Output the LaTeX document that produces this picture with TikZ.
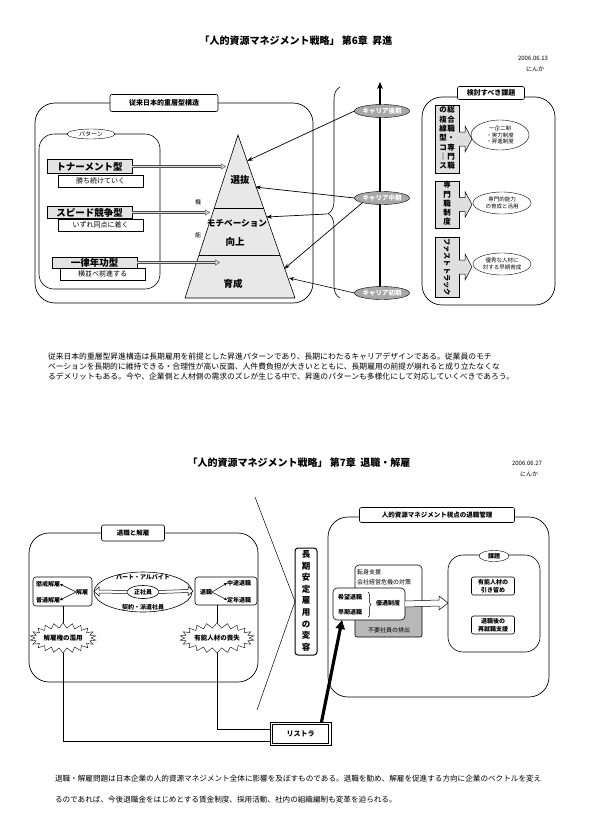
\documentclass[tikz,border=0pt]{standalone}
\usepackage{fontspec}
\setmainfont{Noto Sans CJK JP}
\usetikzlibrary{shapes.geometric,shapes.symbols,arrows.meta,decorations.pathreplacing,calc}
\newcommand\fs[2]{\fontsize{#1}{#2}\selectfont}
\begin{document}
\begin{tikzpicture}[x=1pt,y=-1pt,
  every node/.style={inner sep=0pt, outer sep=0pt},
  lw/.style={line width=0.6pt},
  bigbox/.style={draw, line width=0.7pt, rounded corners=20pt},
  lbl/.style={draw, fill=white, rounded corners=2pt, line width=0.6pt, font=\bfseries\fs{7}{8}},
  pbox/.style={draw, fill=gray!22, minimum width=85pt, font=\bfseries\fs{9.5}{10}},
  sbox/.style={draw, fill=white, minimum width=85pt, minimum height=12pt, font=\fs{7}{8}},
  pyr/.style={font=\bfseries\fs{9.5}{10}},
  car/.style={draw, ellipse, fill=gray!68, minimum width=55pt, minimum height=13pt, text=white, font=\bfseries\fs{6.5}{7}},
  link/.style={line width=0.7pt, -{Stealth[length=6pt,width=4pt]}},
  grarrow/.style={draw=gray!60!black, double=gray!30, double distance=1.6pt, line width=0.4pt, -{Triangle[length=5pt, width=6pt, fill=gray!30]}},
  vb/.style={draw, fill=gray!25, minimum width=24pt, font=\bfseries\fs{7.5}{9.3}},
  chev/.style={draw, fill=gray!25, line width=0.5pt},
  issue/.style={draw, ellipse, fill=white, minimum width=58pt, font=\fs{5.5}{6.8}, align=center},
  small/.style={font=\bfseries\fs{6}{7}},
  tiny/.style={line width=0.5pt, -{Stealth[length=3pt,width=3pt]}},
  burst/.style={draw, starburst, starburst points=22, starburst point height=5pt, random starburst=0, fill=white, minimum width=66pt, minimum height=30pt, font=\bfseries\fs{6.5}{7}},
  ptext/.style={anchor=west, font=\fs{7.8}{9}},
  hollow/.style={draw, fill=white, line width=0.5pt}
]
\useasboundingbox (0,0) rectangle (593,835);
\fill[white] (0,0) rectangle (593,835);

% ---------------- Chapter 6 ----------------
\node[font=\bfseries\fs{10}{12}] (title1) at (296,41) {「人的資源マネジメント戦略」\ 第6章\ \ 昇進};
\node[font=\fs{6}{7}] (date1) at (533,58) {2006.06.13};
\node[font=\fs{6}{7}] (name1) at (535,69) {にんか};

% outer box
\draw[bigbox] (35,103) rectangle (313,303);
\node[lbl, minimum width=108pt, minimum height=17pt] (lb1) at (164,103) {従来日本的重層型構造};

% pattern box
\draw[lw, rounded corners=15pt] (39,134) rectangle (160,289);
\node[draw, ellipse, fill=white, minimum width=48pt, minimum height=10pt, font=\fs{6}{7}] (pat) at (91,134) {パターン};

\node[pbox, minimum height=14pt] (p1) at (89.5,166.5) {トナーメント型};
\node[sbox] (s1) at (100.5,181) {勝ち続けていく};
\node[pbox, minimum height=12pt] (p2) at (89.5,212.5) {スピード競争型};
\node[sbox] (s2) at (100.5,225) {いずれ同点に着く};
\node[pbox, minimum height=11pt] (p3) at (94.5,262.5) {一律年功型};
\node[sbox] (s3) at (102.5,274) {横並べ前進する};

% pyramid
\coordinate (pa) at (238,135);
\coordinate (pl) at (185,298);
\coordinate (pr) at (295,298);
\filldraw[fill=gray!18, lw] (pa) -- (pr) -- (pl) -- cycle;
\draw[lw] (214.3,208) -- (263.5,208);
\draw[lw] (199,255) -- (280,255);
\node[pyr] (sel) at (240,180) {選抜};
\node[font=\bfseries\fs{8.6}{9}] (mot) at (237,223) {モチベーション};
\node[pyr] (up) at (235,242) {向上};
\node[pyr] (grow) at (233,284) {育成};
\node[font=\fs{6}{7}] (ki) at (198,202) {機};
\node[font=\fs{6}{7}] (no) at (198,235) {能};

\coordinate (pt1) at (226,166.5);
\coordinate (pt2) at (210,212.5);
\coordinate (pt3) at (220,262.5);
\draw[grarrow] (p1.east) -- (pt1);
\draw[grarrow] (p2.east) -- (pt2);
\draw[grarrow] (p3.east) -- (pt3);

% career axis
\coordinate (axb) at (380,298);
\coordinate (axt) at (380,82);
\draw[line width=1.4pt, -{Stealth[length=7pt,width=6pt]}] (axb) -- (axt);
\node[car] (c3) at (382,111) {キャリア後期};
\node[car] (c2) at (382,198) {キャリア中期};
\node[car] (c1) at (382,293) {キャリア初期};

\draw[lw, decorate, decoration={brace, amplitude=12pt, aspect=0.4}] (340,298) -- (340,87);
\coordinate (bt) at (327,214);

\coordinate (ta) at (247,161);
\coordinate (tb) at (255,187);
\coordinate (tc) at (266,217);
\coordinate (td) at (284,269);
\coordinate (te) at (289,278);
\draw[link] (c3.west) -- (ta);
\draw[link] (c2.west) -- (tb);
\draw[link] (bt) -- (tc);
\draw[link] (c2.south west) -- (td);
\draw[line width=0.6pt, -{Stealth[length=5pt,width=4pt]}] (c1.west) -- (te);

% issues panel
\draw[bigbox] (422,97) rectangle (555,305);
\node[lbl, minimum width=67pt, minimum height=13pt] (lb2) at (491,93) {検討すべき課題};

\node[vb, minimum height=68pt] (k1) at (447,139) {\begin{tabular}{@{}c@{\hspace{0.5pt}}c@{}}の&総\\複&合\\線&職\\型&・\\コ&専\\｜&門\\ス&職\end{tabular}};
\node[vb, minimum height=45pt] (k2) at (447,204.5) {\begin{tabular}{@{}c@{}}専\\門\\職\\制\\度\end{tabular}};
\node[vb, minimum height=60pt] (k3) at (447,267) {};
\node[rotate=-90, font=\bfseries\fs{7.2}{8}] (k3t) at (k3.center) {ファストトラック};

\foreach \k in {k1,k2,k3}{
  \draw[chev] ($(\k.east)+(0,-7)$) -- ++(6,0) -- ++(0,-6) -- ++(7,13) -- ++(-7,13) -- ++(0,-6) -- ++(-6,0);
}

\node[issue, minimum height=30pt] (e1) at (500,135) {一企二制\\・実力制度\\・昇進制度};
\node[issue, minimum height=22pt] (e2) at (502,203) {専門的能力\\の育成と活用};
\node[issue, minimum height=22pt] (e3) at (502,264) {優秀な人材に\\対する早期育成};

% paragraph 1
\node[ptext] (para1a) at (48,357) {従来日本的重層型昇進構造は長期雇用を前提とした昇進パターンであり、長期にわたるキャリアデザインである。従業員のモチ};
\node[ptext] (para1b) at (48,367) {ベーションを長期的に維持できる・合理性が高い反面、人件費負担が大きいとともに、長期雇用の前提が崩れると成り立たなくな};
\node[ptext] (para1c) at (48,377) {るデメリットもある。今や、企業側と人材側の需求のズレが生じる中で、昇進のパターンも多様化にして対応していくべきであろう。};

% ---------------- Chapter 7 ----------------
\node[font=\bfseries\fs{10}{12}] (title2) at (299,463) {「人的資源マネジメント戦略」\ 第7章\ \ 退職・解雇};
\node[font=\fs{6}{7}] (date2) at (527,463) {2006.06.27};
\node[font=\fs{6}{7}] (name2) at (529,474) {にんか};

% left box
\draw[bigbox] (29,533) rectangle (258,682);
\node[lbl, minimum width=63pt, minimum height=16pt, font=\bfseries\fs{6.5}{7}] (lb3) at (133,533) {退職と解雇};

\node[draw, rounded corners=3pt, lw, minimum width=59pt, minimum height=29pt] (kA) at (62.5,591.5) {};
\node[small] (ka1) at (48,584) {懲戒解雇};
\node[small] (ka2) at (48,600) {普通解雇};
\node[small] (ka0) at (82,592) {解雇};
\draw[tiny] (ka0.west) -- (ka1.east);
\draw[tiny] (ka0.west) -- (ka2.east);

\node[draw, rounded corners=3pt, lw, minimum width=62pt, minimum height=28pt] (kB) at (226,591) {};
\node[small] (kb0) at (206,592) {退職};
\node[small] (kb1) at (239,583) {中途退職};
\node[small] (kb2) at (239,600) {定年退職};
\draw[tiny] (kb0.east) -- (kb1.west);
\draw[tiny] (kb0.east) -- (kb2.west);

\node[draw, ellipse, lw, minimum width=98pt, minimum height=40pt] (emp) at (143,592) {};
\node[small] (part) at (143,577) {パート・アルバイト};
\node[small] (cont) at (143,607) {契約・派遣社員};
\node[draw, ellipse, lw, fill=white, minimum width=32pt, minimum height=13pt, font=\bfseries\fs{6}{7}] (reg) at (143,592) {正社員};

\draw[hollow] ($(reg.west)+(0,-1.5)$) -- ($(kA.east)+(7,-1.5)$) -- ($(kA.east)+(7,-4.5)$) -- ($(kA.east)+(2,0)$) -- ($(kA.east)+(7,4.5)$) -- ($(kA.east)+(7,1.5)$) -- ($(reg.west)+(0,1.5)$);
\draw[hollow] ($(reg.east)+(0,-1.5)$) -- ($(kB.west)+(-7,-1.5)$) -- ($(kB.west)+(-7,-4.5)$) -- ($(kB.west)+(-2,0)$) -- ($(kB.west)+(-7,4.5)$) -- ($(kB.west)+(-7,1.5)$) -- ($(reg.east)+(0,1.5)$);

\node[burst] (sA) at (63,638) {解雇権の濫用};
\node[burst] (sB) at (217,638) {有能人材の喪失};
\draw[lw] (kA.south -| sA.north) -- (sA.north);
\draw[lw] (kB.south -| sB.north) -- (sB.north);

% restructuring
\node[draw, line width=0.6pt, fill=white, minimum width=61pt, minimum height=23pt, font=\bfseries\fs{7}{8}] (R) at (300.5,733.5) {リストラ};
\draw[line width=0.5pt] ($(R.south west)+(2.5,-2)$) rectangle ($(R.north east)+(-2.5,2)$);
\draw[lw] (sA.south) |- ($(R.west)+(0,7.5)$);
\draw[lw] (sB.south) |- ($(R.west)+(0,-4.5)$);

% wedge and vertical box
\node[draw, rounded corners=3pt, line width=1pt, minimum width=22pt, minimum height=107pt, font=\bfseries\fs{8.5}{11.6}] (V) at (306,601.5) {\begin{tabular}{@{}c@{}}長\\期\\安\\定\\雇\\用\\の\\変\\容\end{tabular}};
\coordinate (w1) at (255,497);
\coordinate (w3) at (257,710);
\draw[line width=0.5pt] (w1) -- (V.west) -- (w3);

% right box
\draw[bigbox] (328,517) rectangle (549,697);
\node[lbl, minimum width=155pt, minimum height=15pt, font=\bfseries\fs{6.5}{7}] (lb4) at (437,515) {人的資源マネジメント視点の退職管理};

\node[draw, lw, rounded corners=4pt, minimum width=67pt, minimum height=40pt] (U) at (388.5,585) {};
\node[anchor=west, font=\fs{6}{7}] (u1) at (357,572) {転身支援};
\node[anchor=west, font=\fs{6}{7}] (u2) at (357,582) {会社経営危機の対策};
\node[draw, lw, fill=gray!55, rounded corners=2pt, minimum width=67pt, minimum height=34pt] (G) at (388.5,620) {};
\node[font=\fs{6}{7}] (g1) at (389,630) {不要社員の排出};
\node[draw, lw, fill=white, rounded corners=4pt, minimum width=72pt, minimum height=32pt] (F) at (369,604) {};
\node[small] (f1) at (350,597) {希望退職};
\node[small] (f2) at (350,612) {早期退職};
\draw[line width=0.5pt, decorate, decoration={brace, amplitude=3pt}] (368,592) -- (368,617);
\node[small] (f3) at (388,603) {優遇制度};

% issues box
\draw[lw, rounded corners=15pt] (448,555) rectangle (540,652);
\node[draw, ellipse, fill=white, minimum width=30pt, minimum height=11pt, font=\bfseries\fs{6}{7}] (kad) at (494,556) {課題};
\node[draw, lw, rounded corners=2pt, minimum width=43pt, minimum height=18pt, align=center, font=\bfseries\fs{6}{7.5}] (K1) at (493,586) {有能人材の\\引き留め};
\node[draw, lw, rounded corners=2pt, minimum width=43pt, minimum height=18pt, align=center, font=\bfseries\fs{6}{7.5}] (K2) at (493,625) {退職後の\\再就職支援};

\coordinate (kw) at (448,603);
\draw[hollow] ($(F.east)+(0,-3)$) -- ($(kw)+(-9,-3)$) -- ($(kw)+(-9,-7)$) -- (kw) -- ($(kw)+(-9,7)$) -- ($(kw)+(-9,3)$) -- ($(F.east)+(0,3)$);

\draw[line width=3.2pt, -{Triangle[length=9pt,width=9pt]}] ($(R.north)+(21,0)$) -- ($(F.south west)+(9,0)$);

% paragraph 2
\node[ptext, font=\fs{7.6}{9}] (para2a) at (55,779) {退職・解雇問題は日本企業の人的資源マネジメント全体に影響を及ぼすものである。退職を勧め、解雇を促進する方向に企業のベクトルを変え};
\node[ptext, font=\fs{7.6}{9}] (para2b) at (55,800) {るのであれば、今後退職金をはじめとする賃金制度、採用活動、社内の組織編制も変革を迫られる。};
\end{tikzpicture}
\end{document}
